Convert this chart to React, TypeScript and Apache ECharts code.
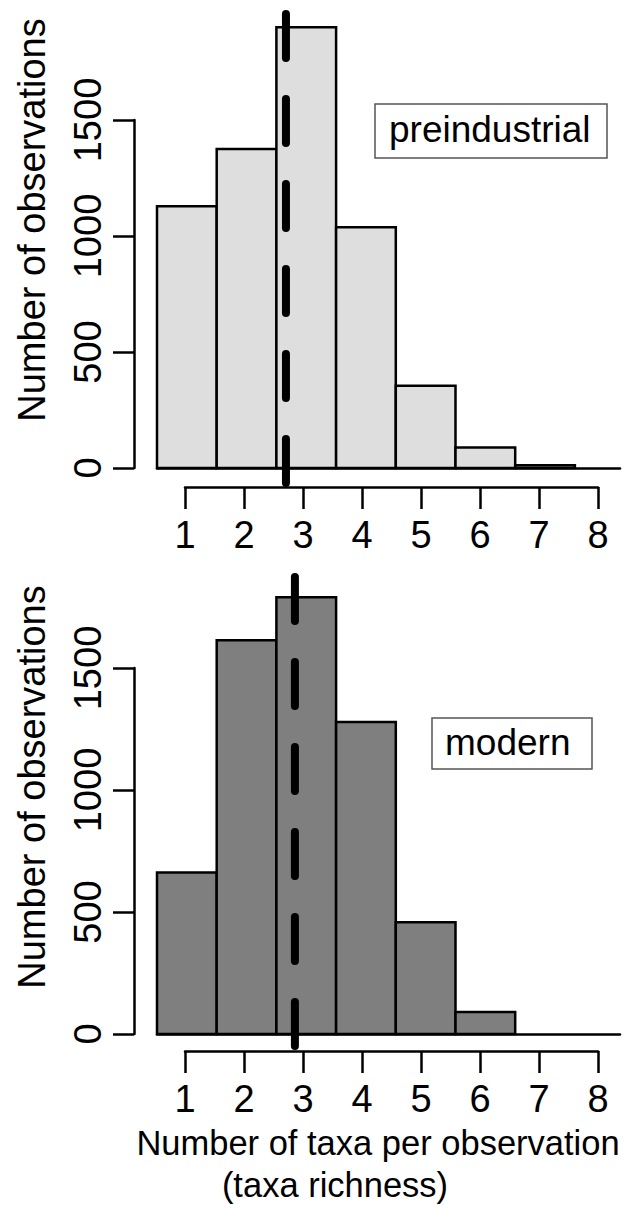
import React, { useEffect, useRef } from "react";
import * as echarts from "echarts";

// ---- data ----
const richness = [1, 2, 3, 4, 5, 6, 7, 8];
const preindustrialCounts = [1128, 1375, 1900, 1038, 355, 88, 12, 0];
const modernCounts = [662, 1614, 1790, 1279, 458, 90, 0, 0];
const preindustrialMean = 2.66;
const modernMean = 2.81;
const yTicks = [0, 500, 1000, 1500];
const xTicks = [1, 2, 3, 4, 5, 6, 7, 8];

// ---- layout (pixels) ----
const FONT = "Liberation Sans, Arial, sans-serif";
const BAR_LEFT = 157;
const BAR_RIGHT = 620;
const PX_PER_BIN = 59.7;
const TICK_LEFT = 185;
const TICK_RIGHT = 598;
const YAXIS_X = 134;

const panels = [
  { top: 10, zero: 468, y1500: 120, bottom: 490, xAxisY: 487, fill: "#dddedd" },
  { top: 573, zero: 1034, y1500: 668, bottom: 1052, xAxisY: 1051, fill: "#7f7f7f" },
];

const xMaxBars = 0.5 + (BAR_RIGHT - BAR_LEFT) / PX_PER_BIN;

function panelRange(p: any) {
  const k = (p.zero - p.y1500) / 1500;
  return { yMin: -(p.bottom - p.zero) / k, yMax: (p.zero - p.top) / k };
}

export default function App() {
  const ref = useRef<HTMLDivElement>(null);
  useEffect(() => {
    if (!ref.current) return;
    const chart = echarts.init(ref.current, undefined, { renderer: "svg" });
    const grids: any[] = [];
    const xAxes: any[] = [];
    const yAxes: any[] = [];
    const series: any[] = [];
    const datasets = [preindustrialCounts, modernCounts];
    const means = [preindustrialMean, modernMean];

    panels.forEach((p, i) => {
      const { yMin, yMax } = panelRange(p);
      const base = i * 3;
      grids.push({ left: BAR_LEFT, width: BAR_RIGHT - BAR_LEFT, top: p.top, height: p.bottom - p.top, outerBoundsMode: "none" });
      grids.push({ left: YAXIS_X, width: 10, top: p.y1500, height: p.zero - p.y1500, outerBoundsMode: "none" });
      grids.push({ left: TICK_LEFT, width: TICK_RIGHT - TICK_LEFT, top: p.xAxisY - 1, height: 1, outerBoundsMode: "none" });

      xAxes.push({
        gridIndex: base, type: "value", min: 0.5, max: xMaxBars,
        axisLine: { show: true, onZero: true, lineStyle: { color: "#000", width: 2.5 } },
        axisTick: { show: false }, axisLabel: { show: false }, splitLine: { show: false },
      });
      yAxes.push({ gridIndex: base, type: "value", min: yMin, max: yMax, show: false, splitLine: { show: false } });

      xAxes.push({ gridIndex: base + 1, type: "value", min: 0, max: 1, show: false });
      yAxes.push({
        gridIndex: base + 1, type: "value", min: yTicks[0], max: yTicks[yTicks.length - 1], interval: 500,
        position: "left",
        axisLine: { show: true, onZero: false, lineStyle: { color: "#000", width: 2.5 } },
        axisTick: { show: true, length: 21, lineStyle: { color: "#000", width: 2.5 } },
        axisLabel: { rotate: 90, fontSize: 38, color: "#000", margin: 27, fontFamily: FONT, formatter: (v: number) => String(v) },
        splitLine: { show: false },
      });

      xAxes.push({
        gridIndex: base + 2, type: "value", min: xTicks[0], max: xTicks[xTicks.length - 1], interval: 1,
        position: "bottom",
        axisLine: { show: true, onZero: false, lineStyle: { color: "#000", width: 2.5 } },
        axisTick: { show: true, length: 22, lineStyle: { color: "#000", width: 2.5 } },
        axisLabel: { fontSize: 38, color: "#000", margin: 29, fontFamily: FONT, showMinLabel: true, showMaxLabel: true, formatter: (v: number) => String(v) },
        splitLine: { show: false },
      });
      yAxes.push({ gridIndex: base + 2, type: "value", min: 0, max: 1, show: false });

      const fill = p.fill;
      series.push({
        type: "custom",
        xAxisIndex: base, yAxisIndex: base,
        data: richness.map((r, j) => [r, datasets[i][j]]).filter((d) => d[1] > 0),
        renderItem: (params: any, api: any) => {
          const x = api.value(0);
          const v = api.value(1);
          const p0 = api.coord([x - 0.5, v]);
          const p1 = api.coord([x + 0.5, 0]);
          return {
            type: "rect",
            shape: { x: p0[0], y: p0[1], width: p1[0] - p0[0], height: p1[1] - p0[1] },
            style: { fill, stroke: "#000", lineWidth: 2.5 },
          };
        },
        clip: false,
      });
      series.push({
        type: "line",
        xAxisIndex: base, yAxisIndex: base,
        data: [[means[i], yMax], [means[i], yMin]],
        symbol: "none",
        clip: false,
        lineStyle: { color: "#000", width: 8, type: [44, 41], dashOffset: 81, cap: "round" },
        z: 5,
      });
    });

    const graphic: any[] = [
      {
        type: "text", x: 32, y: 220, rotation: Math.PI / 2,
        style: { text: "Number of observations", fontSize: 38, fontFamily: FONT, fill: "#000", align: "center", verticalAlign: "middle" },
      },
      {
        type: "text", x: 32, y: 787, rotation: Math.PI / 2,
        style: { text: "Number of observations", fontSize: 38, fontFamily: FONT, fill: "#000", align: "center", verticalAlign: "middle" },
      },
      {
        type: "text", x: 378, y: 1143,
        style: { text: "Number of taxa per observation", fontSize: 34.5, fontFamily: FONT, fill: "#000", align: "center", verticalAlign: "middle" },
      },
      {
        type: "text", x: 335, y: 1185,
        style: { text: "(taxa richness)", fontSize: 34.5, fontFamily: FONT, fill: "#000", align: "center", verticalAlign: "middle" },
      },
      {
        type: "rect", shape: { x: 375, y: 104, width: 232, height: 54 },
        style: { fill: "#fff", stroke: "#555", lineWidth: 1.5 },
      },
      {
        type: "text", x: 389, y: 129,
        style: { text: "preindustrial", fontSize: 37, fontFamily: FONT, fill: "#000", align: "left", verticalAlign: "middle" },
      },
      {
        type: "rect", shape: { x: 432, y: 718, width: 160, height: 51 },
        style: { fill: "#fff", stroke: "#555", lineWidth: 1.5 },
      },
      {
        type: "text", x: 445, y: 742,
        style: { text: "modern", fontSize: 37, fontFamily: FONT, fill: "#000", align: "left", verticalAlign: "middle" },
      },
    ];

    chart.setOption({
      animation: false,
      backgroundColor: "#fff",
      grid: grids,
      xAxis: xAxes,
      yAxis: yAxes,
      series,
      graphic,
    });
    return () => chart.dispose();
  }, []);
  return <div ref={ref} style={{ position: "absolute", left: 0, top: 0, width: 639, height: 1205 }} />;
}
